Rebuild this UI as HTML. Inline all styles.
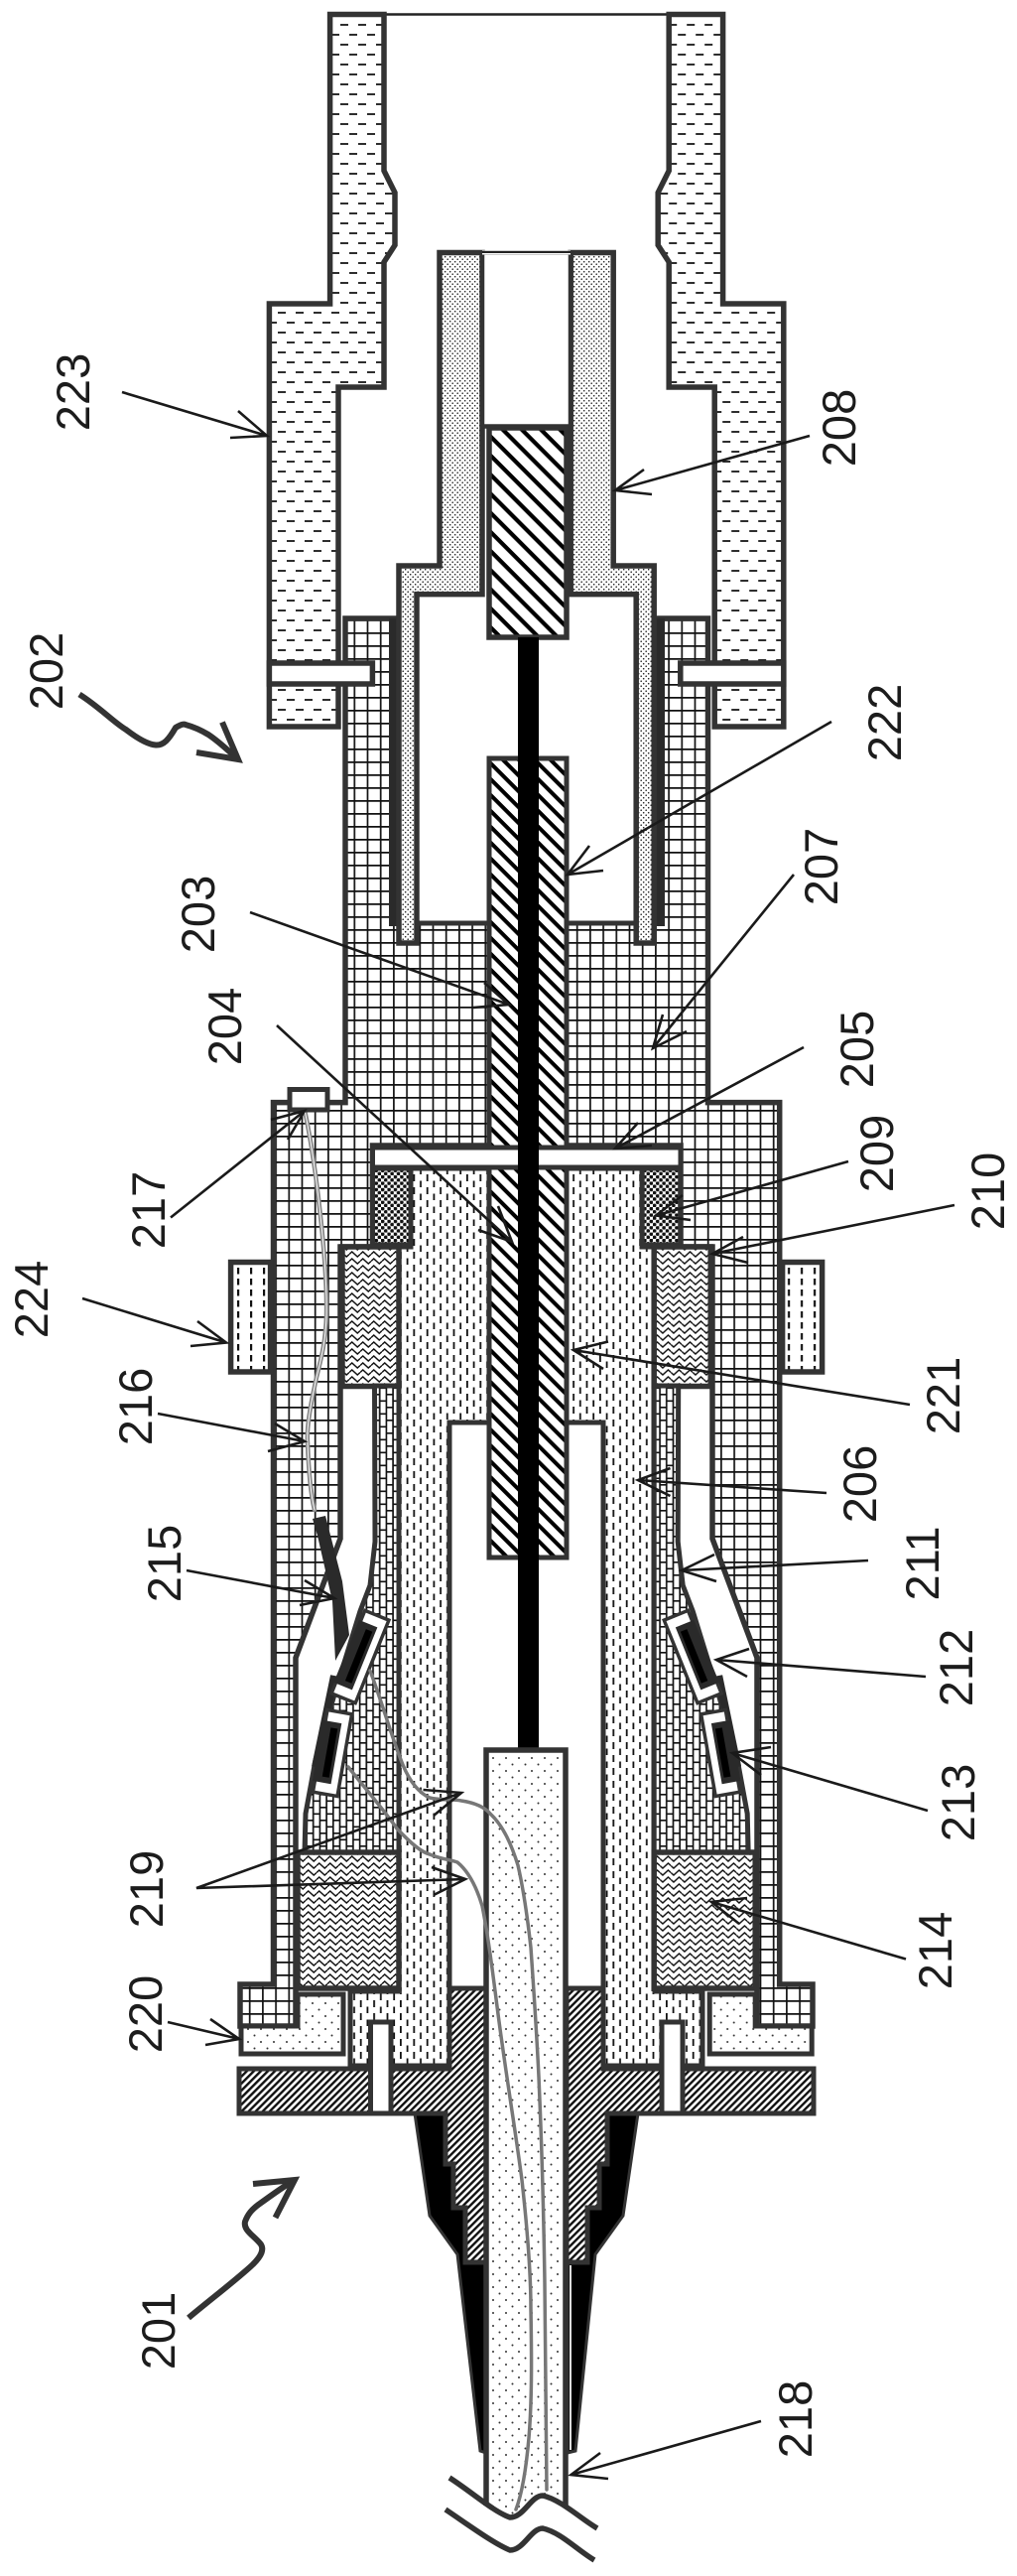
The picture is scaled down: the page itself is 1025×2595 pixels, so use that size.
<!DOCTYPE html>
<html><head><meta charset="utf-8"><style>html,body{margin:0;padding:0;background:#fff}svg{display:block}text{font-family:"Liberation Sans",sans-serif;font-size:47px;fill:#1c1c1c;text-anchor:middle}</style></head><body>
<svg xmlns="http://www.w3.org/2000/svg" width="1025" height="2595" viewBox="0 0 1025 2595">
<defs>
<pattern id="pDash" patternUnits="userSpaceOnUse" width="18" height="20"><rect width="18" height="20" fill="#fff"/><path d="M1 5H9M10 15H18" stroke="#111" stroke-width="1.7"/></pattern>
<pattern id="pFine" patternUnits="userSpaceOnUse" width="5" height="5"><rect width="5" height="5" fill="#fff"/><circle cx="1.2" cy="1.2" r=".8" fill="#222"/><circle cx="3.7" cy="3.7" r=".8" fill="#222"/></pattern>
<pattern id="pGrid" patternUnits="userSpaceOnUse" width="13.2" height="13"><rect width="13.2" height="13" fill="#fff"/><path d="M0 .9H13.2M.9 0V13" stroke="#111" stroke-width="1.7"/></pattern>
<pattern id="pH1" patternUnits="userSpaceOnUse" width="11.3" height="11.3" patternTransform="rotate(45)"><rect width="11.3" height="11.3" fill="#fff"/><rect width="11.3" height="4" fill="#000"/></pattern>
<pattern id="pH2" patternUnits="userSpaceOnUse" width="13.6" height="13.6" patternTransform="rotate(45)"><rect width="13.6" height="13.6" fill="#fff"/><rect width="13.6" height="4.2" fill="#000"/></pattern>
<pattern id="pFl" patternUnits="userSpaceOnUse" width="5" height="5" patternTransform="rotate(-45)"><rect width="5" height="5" fill="#fff"/><rect width="5" height="2.4" fill="#111"/></pattern>
<pattern id="pDV" patternUnits="userSpaceOnUse" width="13.4" height="13"><rect width="13.4" height="13" fill="#fff"/><rect x="1" y="0" width="1.8" height="7" fill="#111"/><rect x="7.7" y="6.5" width="1.8" height="6.5" fill="#111"/></pattern>
<pattern id="pDV2" patternUnits="userSpaceOnUse" width="13" height="11"><rect width="13" height="11" fill="#fff"/><rect x="5" y="1" width="2.2" height="6.5" fill="#111"/></pattern>
<pattern id="pDS" patternUnits="userSpaceOnUse" width="13" height="13"><rect width="13" height="13" fill="#fff"/><circle cx="3" cy="3" r="1" fill="#333"/><circle cx="9.5" cy="9.5" r="1" fill="#333"/></pattern>
<pattern id="pWv" patternUnits="userSpaceOnUse" width="11" height="7"><rect width="11" height="7" fill="#fff"/><path d="M0 3.5L2.75 1L8.25 6L11 3.5" fill="none" stroke="#111" stroke-width="1.5"/></pattern>
<pattern id="pBr" patternUnits="userSpaceOnUse" width="13.4" height="13"><rect width="13.4" height="13" fill="#fff"/><path d="M.8 0V13M7.5 0V13M.8 .8H7.5M7.5 7.3H13.4" fill="none" stroke="#111" stroke-width="1.7"/></pattern>
<pattern id="pSl" patternUnits="userSpaceOnUse" width="6.4" height="6.4"><rect width="6.4" height="6.4" fill="#fff"/><circle cx="1.6" cy="1.6" r="1.9" fill="#111"/><circle cx="4.8" cy="4.8" r="1.9" fill="#111"/></pattern>

<g id="half">
<polygon points="332.6,14.5 387,14.5 387,172 398,194 398,247 387,264 387,390 341,390 341,732 271.4,732 271.4,306 332.6,306" fill="url(#pDash)" stroke="#333" stroke-width="5.5"/>
<rect x="271.4" y="668" width="104" height="21" fill="#fff" stroke="#333" stroke-width="5.5"/>
<rect x="232.6" y="1271.5" width="40" height="110.5" fill="url(#pDV2)" stroke="#333" stroke-width="5.5"/>
<rect x="375.5" y="1177" width="38.5" height="77" fill="url(#pSl)" stroke="#333" stroke-width="5"/>
<rect x="345" y="1256" width="57" height="140.5" fill="url(#pWv)" stroke="#333" stroke-width="5.5"/>
<polygon points="377.5,1396 402,1396 402,1866 307,1866 308,1827 318,1773 337,1707 363,1623 373,1597 378,1553" fill="url(#pBr)" stroke="#333" stroke-width="5"/>
<path d="M337 1688L318 1780" fill="none" stroke="#2a2a2a" stroke-width="8"/>
<rect x="300" y="1866" width="102" height="137" fill="url(#pWv)" stroke="#333" stroke-width="5.5"/>
<path d="M243 2041H300V2009H346V2069H243Z" fill="url(#pDS)" stroke="#333" stroke-width="5"/>
<g transform="translate(363,1669) rotate(22)"><rect x="-13" y="-45" width="26" height="90" fill="#fff" stroke="#333" stroke-width="3.5"/><rect x="-15" y="-34" width="20" height="68" fill="#2a2a2a"/><rect x="-5" y="-28" width="7" height="56" fill="#000"/></g>
<g transform="translate(335,1766) rotate(10)"><rect x="-12.5" y="-42" width="25" height="84" fill="#fff" stroke="#333" stroke-width="3.5"/><rect x="-15" y="-31" width="19" height="62" fill="#2a2a2a"/><rect x="-6" y="-25" width="7" height="50" fill="#000"/></g>
</g>
</defs>
<rect width="1025" height="2595" fill="#fff"/>

<!-- main grid body and housing -->
<polygon points="275.5,1110.6 348,1110.6 348,623 713.5,623 713.5,1110.6 785.7,1110.6 785.7,1999 819,1999 819,2041 763,2041 763,1670 718,1550 718,1256 686,1256 686,1154 375.5,1154 375.5,1256 343,1256 343,1550 298,1670 298,2041 242,2041 242,1999 275.5,1999" fill="url(#pGrid)" stroke="#333" stroke-width="5.5"/>

<!-- cavity + 208 tube -->
<rect x="402" y="570" width="258" height="360" fill="#fff"/>
<path d="M397 623V933M665 623V933" stroke="#2a2a2a" stroke-width="10" fill="none"/>
<polygon points="443,254.5 486,254.5 486,598.6 420,598.6 420,950 402,950 402,570 443,570" fill="url(#pFine)" stroke="#333" stroke-width="5.5"/>
<polygon points="618.2,254.5 575.2,254.5 575.2,598.6 641.2,598.6 641.2,950 659.2,950 659.2,570 618.2,570" fill="url(#pFine)" stroke="#333" stroke-width="5.5"/>
<path d="M420 930H642" stroke="#333" stroke-width="5"/>
<path d="M387 14.5H674" stroke="#222" stroke-width="2.5"/>
<rect x="486" y="254.5" width="89" height="175" fill="#fff" stroke="#333" stroke-width="4.5"/>
<path d="M486 254.5H575" stroke="#fff" stroke-width="4"/><path d="M486 254H575" stroke="#222" stroke-width="2"/>

<!-- 206 body -->
<polygon points="414,1177 647,1177 647,1256 660,1256 660,2006 708,2006 708,2081 608,2081 608,1433 453,1433 453,2081 353,2081 353,2006 402,2006 402,1256 414,1256" fill="url(#pDV)" stroke="#333" stroke-width="5"/>
<path d="M401 1256V2006M660 1256V2006" stroke="#2a2a2a" stroke-width="7"/>

<use href="#half"/>
<use href="#half" transform="translate(1061.2,0) scale(-1,1)"/>

<!-- 215 strip -->
<polygon points="315,1530 328,1527 345,1593 352,1647 338,1673 335,1613 320,1547" fill="#2a2a2a"/>

<!-- base hatch -->
<polygon points="418,2129 433,2232 461,2271 484,2469 490,2471 490,2279 469,2279 469,2224 457,2224 457,2180 449,2180 449,2129" fill="#000" stroke="#333" stroke-width="3"/>
<polygon points="643,2129 628,2232 600,2271 580,2469 572,2471 572,2279 592,2279 592,2224 604,2224 604,2180 612,2180 612,2129" fill="#000" stroke="#333" stroke-width="3"/>
<path d="M575 2282V2468" stroke="#ddd" stroke-width="2"/>
<polygon points="241,2084 453,2084 453,2003 490,2003 490,2279 469,2279 469,2224 457,2224 457,2180 449,2180 449,2129 241,2129" fill="url(#pFl)" stroke="#333" stroke-width="5"/>
<polygon points="820,2084 608,2084 608,2003 571,2003 571,2279 592,2279 592,2224 604,2224 604,2180 612,2180 612,2129 820,2129" fill="url(#pFl)" stroke="#333" stroke-width="5"/>
<rect x="373.5" y="2037" width="20.5" height="92" fill="#fff" stroke="#333" stroke-width="5"/>
<rect x="667" y="2037" width="21" height="92" fill="#fff" stroke="#333" stroke-width="5"/>

<!-- hatched rods -->
<rect x="493" y="431" width="78" height="211" fill="url(#pH2)" stroke="#333" stroke-width="5.5"/>
<rect x="493" y="764" width="78" height="805" fill="url(#pH1)" stroke="#333" stroke-width="5"/>
<rect x="375.5" y="1156" width="310.5" height="20" fill="#fff" stroke="#333" stroke-width="5"/>
<rect x="522" y="642" width="21" height="1120" fill="#000"/>

<!-- cable -->
<path d="M490 1763H570V2524C560 2520 555 2514 547 2514C535 2514 525 2535 514 2536C505 2536 497 2530 490 2524Z" fill="url(#pDS)"/>
<path d="M490 2524V1763H570V2524" fill="none" stroke="#333" stroke-width="5.5"/>

<!-- wires -->
<g fill="none" stroke-linecap="round">
<path d="M351 1780C375 1810 392 1830 400 1842C415 1858 425 1866 433 1868C445 1873 452 1873 461 1876C472 1885 480 1900 486 1920C492 1950 497 1990 502 2029C510 2090 520 2150 526 2196C532 2250 535 2290 535 2326C536 2380 536 2420 533 2456C530 2490 525 2515 520 2528" stroke="#777" stroke-width="3.5"/>
<path d="M373 1683C385 1715 395 1750 403 1770C410 1790 420 1805 433 1811C445 1814 455 1812 465 1814C478 1816 488 1820 494 1827C508 1840 516 1860 522 1879C528 1905 532 1935 535 1962C538 2005 541 2050 543 2092C546 2160 548 2230 549 2300C550 2370 551 2440 551 2508" stroke="#777" stroke-width="3.5"/>
<path d="M307 1118C318 1170 330 1270 329 1325C328 1360 320 1380 317 1397C312 1420 309 1440 310 1453C311 1480 313 1505 317 1521" stroke="#888" stroke-width="4.5"/>
<path d="M307 1118C318 1170 330 1270 329 1325C328 1360 320 1380 317 1397C312 1420 309 1440 310 1453C311 1480 313 1505 317 1521" stroke="#fff" stroke-width="1"/>
</g>
<rect x="292" y="1097.5" width="38" height="20.5" fill="#fff" stroke="#333" stroke-width="5"/>

<!-- break lines -->
<g fill="none" stroke="#333" stroke-width="5.5">
<path d="M453 2496C475 2510 497 2530 514 2536C528 2536 535 2514 547 2514C565 2518 585 2537 602 2547"/>
<path d="M449 2528C470 2542 497 2562 514 2569C528 2569 535 2547 547 2547C565 2551 582 2569 599 2579"/>
</g>

<!-- squiggles -->
<g fill="none" stroke="#333" stroke-width="6" stroke-linejoin="miter">
<path d="M80 699.5C100 712 115 728 127 735C140 745 150 750 157 750.5C165 751 170 745 177 733C182 730 185 729 187 730C198 733 205 737 210 740C222 748 232 758 240 765"/>
<path d="M224 727.5L240 765L198 758"/>
<path d="M190 2335C210 2318 238 2297 255 2281C264 2272 266 2266 263 2261C256 2252 245 2247 247 2238C250 2230 254 2226 259 2222C270 2214 285 2203 297 2196"/>
<path d="M255 2200L297 2196L277.5 2234"/>
</g>

<!-- leaders -->
<g fill="none" stroke="#1a1a1a" stroke-width="2.6">
<path d="M123 395L269 439M240 414L269 439L232 441"/>
<path d="M816 439L620 494M649 473L620 494L657 498"/>
<path d="M838 727L572 881M594 852L572 881L608 877"/>
<path d="M800 881L658 1056M668 1022L658 1056L692 1039"/>
<path d="M810 1055L620 1157M643 1131L620 1157L657 1154"/>
<path d="M855 1170L661 1224.5M688 1204L661 1224.5L696 1229"/>
<path d="M962 1214L718 1263M749 1246L718 1263L754 1272"/>
<path d="M917 1415L578 1360M613 1351.5L578 1360L608 1379"/>
<path d="M833 1504L643 1491M675.5 1479L643 1491L675.5 1507"/>
<path d="M875 1572L687 1582M720 1566L687 1582L722 1593"/>
<path d="M933 1689L722 1672M755 1661L722 1672L753 1689"/>
<path d="M935 1824L738 1766M777 1760L738 1766L767 1788"/>
<path d="M913 1973.5L717 1916M753 1912L717 1916L745 1938"/>
<path d="M767 2439L575.5 2493M605 2471L575.5 2493L613 2497"/>
<path d="M279 1033L516 1251M502 1215L516 1251L482 1239"/>
<path d="M252 919L513 1012M488 990L513 1012L477 1015"/>
<path d="M172 1226.5L307 1119M273 1128L307 1119L290 1148"/>
<path d="M83 1308L228 1352.5M199 1331L228 1352.5L192 1356"/>
<path d="M159 1424L307 1452M277 1434L307 1452L270 1462"/>
<path d="M188 1582L337 1610M307 1592L337 1610L302 1617"/>
<path d="M465 1806L198 1902L469 1893M426.5 1803L465 1806L437 1829M435 1881L469 1893L437 1909"/>
<path d="M169 2037L241 2054M212 2034L241 2054L207 2060"/>
</g>

<!-- labels -->
<text transform="translate(63,676) rotate(-90)">202</text>
<text transform="translate(216,921) rotate(-90)">203</text>
<text transform="translate(243,1034) rotate(-90)">204</text>
<text transform="translate(166,1219) rotate(-90)">217</text>
<text transform="translate(48,1309) rotate(-90)">224</text>
<text transform="translate(90,395) rotate(-90)">223</text>
<text transform="translate(153,1417) rotate(-90)">216</text>
<text transform="translate(182,1575) rotate(-90)">215</text>
<text transform="translate(164,1903) rotate(-90)">219</text>
<text transform="translate(163,2029) rotate(-90)">220</text>
<text transform="translate(176,2348) rotate(-90)">201</text>
<text transform="translate(818,2437) rotate(-90)">218</text>
<text transform="translate(862,431) rotate(-90)">208</text>
<text transform="translate(908,728) rotate(-90)">222</text>
<text transform="translate(844,873) rotate(-90)">207</text>
<text transform="translate(880,1057) rotate(-90)">205</text>
<text transform="translate(900,1162) rotate(-90)">209</text>
<text transform="translate(1012,1200) rotate(-90)">210</text>
<text transform="translate(967,1406) rotate(-90)">221</text>
<text transform="translate(883,1495) rotate(-90)">206</text>
<text transform="translate(946,1575) rotate(-90)">211</text>
<text transform="translate(980,1680) rotate(-90)">212</text>
<text transform="translate(982,1816) rotate(-90)">213</text>
<text transform="translate(959,1965) rotate(-90)">214</text>
</svg>
</body></html>
